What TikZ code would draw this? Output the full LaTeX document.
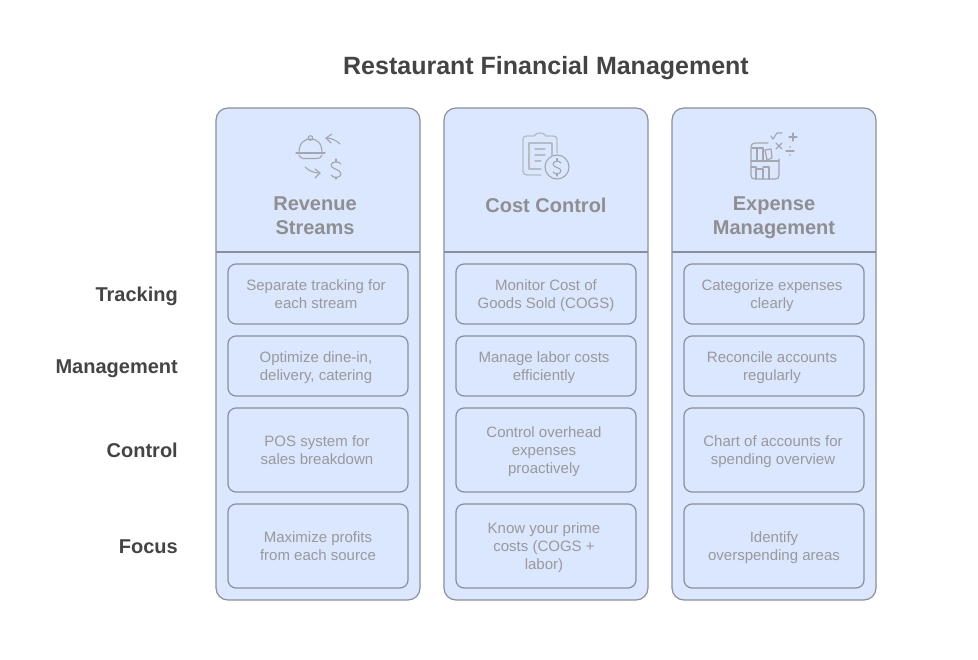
\documentclass[tikz,border=0pt]{standalone}
\usepackage{fontspec}
\setmainfont{Liberation Sans}
\definecolor{panelfill}{HTML}{DBE7FF}
\definecolor{panelline}{HTML}{8A8F9B}
\definecolor{mutedtext}{HTML}{999999}
\definecolor{headtext}{HTML}{8F8F8F}
\definecolor{darktext}{HTML}{444444}
\definecolor{iconline}{HTML}{A3A6AD}
\definecolor{iconpale}{HTML}{B7BBC4}
\begin{document}
\begin{tikzpicture}[x=1pt, y=-1pt,
panel/.style={draw=panelline, fill=panelfill, line width=1.2pt, rounded corners=12pt, minimum width=204pt, minimum height=492pt, inner sep=0pt, outer sep=0pt},
cell/.style={draw=panelline, rounded corners=8pt, line width=1.2pt, minimum width=180pt, inner sep=0pt, outer sep=0pt},
celltext/.style={text=mutedtext, align=center, inner sep=0pt, yshift=-3pt, font=\fontsize{15}{18}\selectfont, execute at begin node=\strut, execute at end node=\strut},
head/.style={text=headtext, align=center, inner sep=0pt, yshift=-3.5pt, font=\fontsize{20}{24}\selectfont\bfseries, execute at begin node=\strut, execute at end node=\strut},
rowname/.style={text=darktext, anchor=east, inner sep=0pt, yshift=-3pt, font=\fontsize{20}{24}\selectfont\bfseries, execute at begin node=\strut},
icon/.style={draw=iconline, line width=1.1pt, line cap=round, line join=round}]
\useasboundingbox (0,0) rectangle (978,660);
\node[text=darktext, inner sep=0pt, yshift=-4pt, font=\fontsize{25}{30}\selectfont\bfseries, execute at begin node=\strut] (title) at (546,65){Restaurant Financial Management};
\node[panel] (rev) at (318,354){};
\node[panel] (cost) at (546,354){};
\node[panel] (exp) at (774,354){};
\coordinate (revl) at (216,252);
\coordinate (revr) at (420,252);
\coordinate (costl) at (444,252);
\coordinate (costr) at (648,252);
\coordinate (expl) at (672,252);
\coordinate (expr) at (876,252);
\draw[panelline, line width=1.2pt](revl) -- (revr);
\draw[panelline, line width=1.2pt](costl) -- (costr);
\draw[panelline, line width=1.2pt](expl) -- (expr);
\node[head] (revhead) at (315,216){Revenue\\Streams};
\node[head] (costhead) at (546,204){Cost Control};
\node[head] (exphead) at (774,216){Expense\\Management};
\node[rowname] (track) at (178,294){Tracking};
\node[rowname] (manage) at (178,366){Management};
\node[rowname] (control) at (178,450){Control};
\node[rowname] (focus) at (178,546){Focus};
% first column
\node[cell, minimum height=60pt] (rev0) at (318,294){};
\node[cell, minimum height=60pt] (rev1) at (318,366){};
\node[cell, minimum height=84pt] (rev2) at (318,450){};
\node[cell, minimum height=84pt] (rev3) at (318,546){};
\node[celltext] (revtext0) at (316,294){Separate tracking for\\each stream};
\node[celltext] (revtext1) at (316,366){Optimize dine-in,\\delivery, catering};
\node[celltext] (revtext2) at (317,450){POS system for\\sales breakdown};
\node[celltext] (revtext3) at (318,546){Maximize profits\\from each source};
% second column
\node[cell, minimum height=60pt] (cost0) at (546,294){};
\node[cell, minimum height=60pt] (cost1) at (546,366){};
\node[cell, minimum height=84pt] (cost2) at (546,450){};
\node[cell, minimum height=84pt] (cost3) at (546,546){};
\node[celltext] (costtext0) at (546,294){Monitor Cost of\\Goods Sold (COGS)};
\node[celltext] (costtext1) at (544,366){Manage labor costs\\efficiently};
\node[celltext] (costtext2) at (544,450){Control overhead\\expenses\\proactively};
\node[celltext] (costtext3) at (544,546){Know your prime\\costs (COGS +\\labor)};
% third column
\node[cell, minimum height=60pt] (exp0) at (774,294){};
\node[cell, minimum height=60pt] (exp1) at (774,366){};
\node[cell, minimum height=84pt] (exp2) at (774,450){};
\node[cell, minimum height=84pt] (exp3) at (774,546){};
\node[celltext] (exptext0) at (772,294){Categorize expenses\\clearly};
\node[celltext] (exptext1) at (772,366){Reconcile accounts\\regularly};
\node[celltext] (exptext2) at (773,450){Chart of accounts for\\spending overview};
\node[celltext] (exptext3) at (774,546){Identify\\overspending areas};
% dish icon
\draw[icon] (296,153) -- (325,153);
\draw[icon] (299,153) .. controls (299,143) and (304,139) .. (310.5,139) .. controls (317,139) and (322,143) .. (322,153);
\draw[icon] (310.5,138) circle (2.3pt);
\draw[icon] (299,155) .. controls (300,158) and (302,158.5) .. (304,158.5) -- (317,158.5) .. controls (319,158.5) and (321,158) .. (322,155);
\draw[icon] (340,144) .. controls (336,140) and (331,138) .. (326,138);
\draw[icon] (332,134) -- (326,138) -- (331,143);
\draw[icon] (305,167) .. controls (309,171) and (314,173) .. (320,173);
\draw[icon] (315,169) -- (320,173) -- (315,178);
\draw[icon] (341,164) .. controls (339,161) and (332,161) .. (331,165) .. controls (330,169) and (341,169) .. (341,174) .. controls (341,178) and (333,179) .. (331,175);
\draw[icon] (336,159) -- (336,162);
\draw[icon] (336,177) -- (336,179);
% clipboard icon
\draw[icon, iconpale, line width=1.3pt] (541,175) -- (527,175) .. controls (524.5,175) and (523,173.5) .. (523,171) -- (523,139) .. controls (523,137) and (524.5,136) .. (527,136) -- (534,136) .. controls (536,132) and (544,132) .. (546,136) -- (553,136) .. controls (555.5,136) and (557,137) .. (557,139) -- (557,153);
\draw[icon, iconpale, line width=1.3pt] (541,169) -- (529,169) -- (529,143) -- (552,143) -- (552,155);
\draw[icon, iconpale, line width=1.3pt] (535,149) -- (545,149);
\draw[icon, iconpale, line width=1.3pt] (535,155) -- (545,155);
\draw[icon, iconpale, line width=1.3pt] (535,161) -- (541,161);
\draw[icon] (557,167) circle (12pt);
\draw[icon] (561,163) .. controls (559,160) and (553,161) .. (553,164) .. controls (553,168) and (561,167) .. (561,171) .. controls (561,174) and (555,175) .. (553,172);
\draw[icon] (557,158.5) -- (557,160.5);
\draw[icon] (557,174) -- (557,176);
% calculator and shelf icon
\draw[icon, line width=1.2pt] (768,143) -- (755,143) .. controls (752,143) and (751,145) .. (751,147) -- (751,175) .. controls (751,178) and (752,179) .. (755,179) -- (775,179) .. controls (778,179) and (779,178) .. (779,175) -- (779,159);
\draw[icon, line width=1.2pt] (751,161) -- (779,161);
\draw[icon, line width=1.2pt] (752,148) -- (763,148) -- (763,161);
\draw[icon, line width=1.2pt] (757,148) -- (757,161);
\draw[icon, line width=1.2pt] (765,150) -- (771,149) -- (772,158) -- (767,160) -- cycle;
\draw[icon, line width=1.2pt] (751,167) -- (756,167) -- (756,179);
\draw[icon, line width=1.2pt] (756,169) -- (763,169) -- (763,179);
\draw[icon, line width=1.2pt] (763,167) -- (769,167) -- (769,179);
\draw[icon] (771,136) -- (773,139) -- (777,133) -- (782,133);
\draw[icon] (789,137) -- (797,137);
\draw[icon] (793,133) -- (793,141);
\draw[icon] (776,143) -- (782,149);
\draw[icon] (782,143) -- (776,149);
\draw[icon] (786,151) -- (794,151);
\fill[iconline] (790,147) circle (0.8pt);
\fill[iconline] (790,155) circle (0.8pt);
\end{tikzpicture}
\end{document}
